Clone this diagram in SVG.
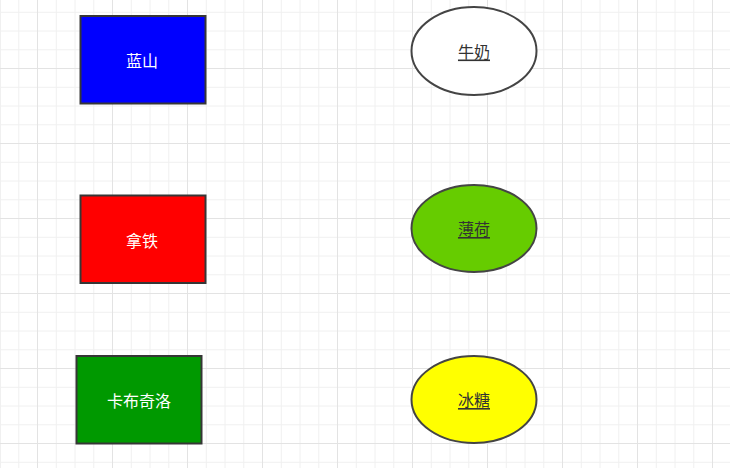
<svg xmlns="http://www.w3.org/2000/svg" width="730" height="468" viewBox="0 0 730 468">
<style>
.minor{stroke:#f0f0f0;stroke-width:1;fill:none}
.major{stroke:#e3e3e3;stroke-width:1;fill:none}
.box{stroke:#363636;stroke-width:2}
.oval{stroke:#444444;stroke-width:2}
.lt{font-family:"Noto Sans CJK SC","Microsoft YaHei",sans-serif;font-size:16px;text-anchor:middle;dominant-baseline:central;fill:#ffffff}
.dk{font-family:"Noto Sans CJK SC","Microsoft YaHei",sans-serif;font-size:16px;text-anchor:middle;dominant-baseline:central;fill:#333333;text-decoration:underline}
</style>
<rect width="730" height="468" fill="#ffffff"/>
<g id="grid">
<path class="minor" d="M0.5 0V468M18.75 0V468M56.25 0V468M75 0V468M93.75 0V468M131.25 0V468M150 0V468M168.75 0V468M206.25 0V468M225 0V468M243.75 0V468M281.25 0V468M300 0V468M318.75 0V468M356.25 0V468M375 0V468M393.75 0V468M431.25 0V468M450 0V468M468.75 0V468M506.25 0V468M525 0V468M543.75 0V468M581.25 0V468M600 0V468M618.75 0V468M656.25 0V468M675 0V468M693.75 0V468M0 12.25H730M0 31H730M0 49.75H730M0 87.25H730M0 106H730M0 124.75H730M0 162.25H730M0 181H730M0 199.75H730M0 237.25H730M0 256H730M0 274.75H730M0 312.25H730M0 331H730M0 349.75H730M0 387.25H730M0 406H730M0 424.75H730M0 462.25H730"/>
<path class="major" d="M37.5 0V468M112.5 0V468M187.5 0V468M262.5 0V468M337.5 0V468M412.5 0V468M487.5 0V468M562.5 0V468M637.5 0V468M712.5 0V468M0 68.5H730M0 143.5H730M0 218.5H730M0 293.5H730M0 368.5H730M0 443.5H730"/>
</g>
<g id="connectors"></g>
<g id="lanshan">
<rect class="box" x="80.5" y="16" width="125" height="87.5" fill="#0000ff"/>
<text class="lt" x="142" y="59.5">蓝山</text>
</g>
<g id="natie">
<rect class="box" x="80.5" y="195.5" width="125" height="87.5" fill="#ff0000"/>
<text class="lt" x="142" y="239.5">拿铁</text>
</g>
<g id="kabuqiluo">
<rect class="box" x="76.5" y="356" width="125" height="87.5" fill="#009900"/>
<text class="lt" x="139" y="400">卡布奇洛</text>
</g>
<g id="niunai">
<ellipse class="oval" cx="474" cy="51" rx="62.5" ry="44" fill="#ffffff"/>
<text class="dk" x="474" y="50.5">牛奶</text>
</g>
<g id="bohe">
<ellipse class="oval" cx="474" cy="228.5" rx="62.5" ry="43.5" fill="#66cc00"/>
<text class="dk" x="474" y="228">薄荷</text>
</g>
<g id="bingtang">
<ellipse class="oval" cx="474" cy="399.5" rx="62.5" ry="43.5" fill="#ffff00"/>
<text class="dk" x="474" y="399">冰糖</text>
</g>
</svg>
